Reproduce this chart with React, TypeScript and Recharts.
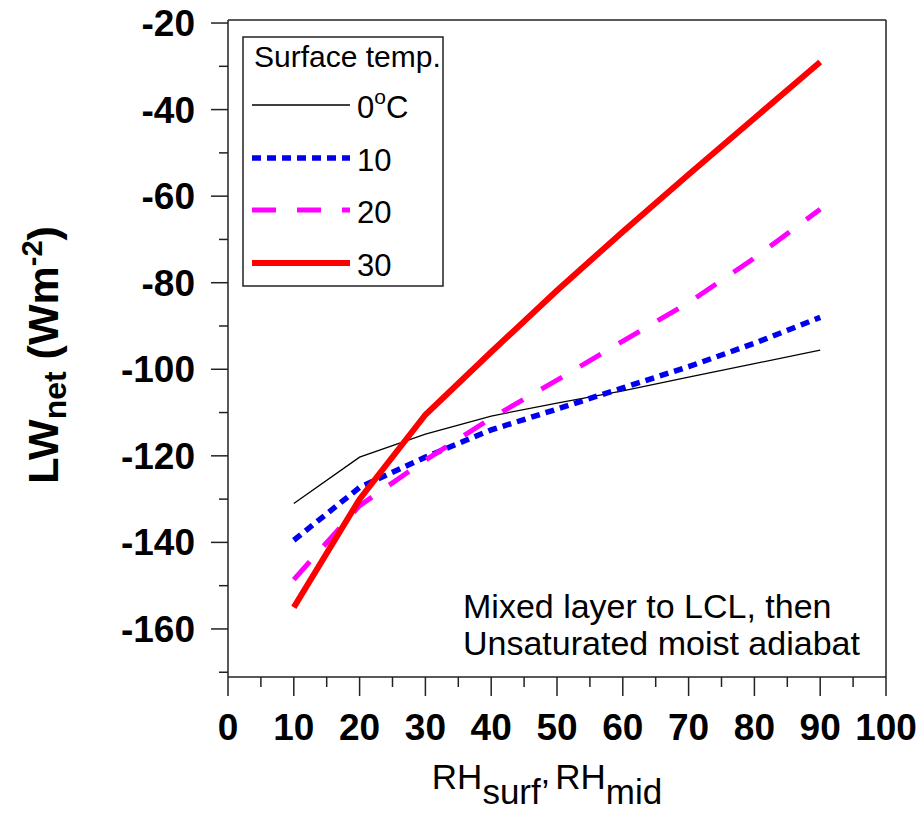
import React from "react";
import { LineChart, Line, XAxis, YAxis, ReferenceLine, Customized } from "recharts";

// relative humidity (x) and net longwave flux for each surface temperature
const rhValues = [10, 20, 30, 40, 50, 60, 70, 80, 90];
const lw0 = [-131, -120.3, -115, -110.8, -107.8, -105, -101.8, -98.7, -95.6];
const lw10 = [-139.5, -127.3, -120.3, -114, -109.2, -104.3, -99.4, -94, -88];
const lw20 = [-148.6, -131.5, -121, -111.3, -102.5, -93.5, -84.6, -74.3, -63];
const lw30 = [-155, -130, -110.5, -96, -81.8, -68.2, -55, -42, -29];

const xTicks = [0, 5, 10, 15, 20, 25, 30, 35, 40, 45, 50, 55, 60, 65, 70, 75, 80, 85, 90, 95, 100];
const xLabels = [0, 10, 20, 30, 40, 50, 60, 70, 80, 90, 100];
const yTicks = [-170, -160, -150, -140, -130, -120, -110, -100, -90, -80, -70, -60, -50, -40, -30, -20];
const yLabels = [-160, -140, -120, -100, -80, -60, -40, -20];

const series = [
  { key: "t0", label: "0", values: lw0, color: "#000000", width: 1.3, dash: undefined as string | undefined },
  { key: "t10", label: "10", values: lw10, color: "#0000ee", width: 5.5, dash: "9 6" },
  { key: "t20", label: "20", values: lw20, color: "#ff00ff", width: 5, dash: "24 21" },
  { key: "t30", label: "30", values: lw30, color: "#ff0000", width: 6, dash: undefined as string | undefined },
];

const data = rhValues.map((rh, i) => {
  const row: Record<string, number> = { rh };
  series.forEach((s) => (row[s.key] = s.values[i]));
  return row;
});

const FONT = "'Liberation Sans', Arial, sans-serif";
const AXIS = "#222";

function YTick(props: any) {
  const { x, y, payload } = props;
  const major = yLabels.includes(payload.value);
  return (
    <g>
      <line x1={x - (major ? 17 : 9)} x2={x} y1={y} y2={y} stroke={AXIS} strokeWidth={1.5} />
      {major && (
        <text x={x - 33} y={y + 13} textAnchor="end" fontSize={37} fontWeight="bold" fontFamily={FONT} fill="#000">
          {payload.value}
        </text>
      )}
    </g>
  );
}

function XTick(props: any) {
  const { x, y, payload } = props;
  const major = xLabels.includes(payload.value);
  return (
    <g>
      <line x1={x} x2={x} y1={y} y2={y + (major ? 19 : 10)} stroke={AXIS} strokeWidth={1.5} />
      {major && (
        <text x={x} y={y + 63} textAnchor="middle" fontSize={37} fontWeight="bold" fontFamily={FONT} fill="#000">
          {payload.value}
        </text>
      )}
    </g>
  );
}

function Overlay() {
  const rows = [105, 158, 210, 263];
  return (
    <g fontFamily={FONT}>
      {/* legend */}
      <rect x={243} y={37} width={200} height={249} fill="#fff" stroke={AXIS} strokeWidth={1.5} />
      <text x={254} y={67} fontSize={30} fill="#000">Surface temp.</text>
      {series.map((s, i) => (
        <g key={s.key}>
          <line x1={252} x2={350} y1={rows[i]} y2={rows[i]} stroke={s.color} strokeWidth={s.width} strokeDasharray={s.dash} />
          <text x={357} y={rows[i] + 13} fontSize={31} fill="#000">
            {s.label}
            {i === 0 && (
              <>
                <tspan fontSize={21} dy={-14}>o</tspan>
                <tspan dy={14}>C</tspan>
              </>
            )}
          </text>
        </g>
      ))}

      {/* annotation */}
      <text x={463} y={618} fontSize={34} fill="#000">Mixed layer to LCL, then</text>
      <text x={463} y={655} fontSize={34} fill="#000">Unsaturated moist adiabat</text>

      {/* x title */}
      <text x={547} y={789} textAnchor="middle" fontSize={35} fill="#000">
        RH<tspan dy={15}>surf’</tspan>
        <tspan dy={-15} dx={6}>RH</tspan>
        <tspan dy={15}>mid</tspan>
      </text>

      {/* y title */}
      <text x={0} y={0} transform="translate(58,355) rotate(-90)" textAnchor="middle" fontSize={43} fontWeight="bold" fill="#000">
        LW<tspan fontSize={32} dy={8}>net</tspan>
        <tspan dy={-8}> (Wm</tspan>
        <tspan fontSize={29} dy={-16}>-2</tspan>
        <tspan dy={16}>)</tspan>
      </text>
    </g>
  );
}

export default function App() {
  return (
    <div style={{ position: "absolute", left: 0, top: 0, background: "#fff" }}>
      <LineChart width={918} height={814} data={data} margin={{ top: 20, right: 32, bottom: 0, left: 0 }}>
        <XAxis
          dataKey="rh"
          type="number"
          domain={[0, 100]}
          ticks={xTicks}
          interval={0}
          height={137}
          tickSize={0}
          tickMargin={0}
          tickLine={false}
          axisLine={{ stroke: AXIS, strokeWidth: 1.5 }}
          tick={<XTick />}
        />
        <YAxis
          type="number"
          domain={[-171.1, -19.3]}
          allowDataOverflow
          ticks={yTicks}
          interval={0}
          width={228}
          tickSize={0}
          tickMargin={0}
          tickLine={false}
          axisLine={{ stroke: AXIS, strokeWidth: 1.5 }}
          tick={<YTick />}
        />
        <ReferenceLine y={-19.3} stroke={AXIS} strokeWidth={1.5} ifOverflow="visible" />
        <ReferenceLine x={100} stroke={AXIS} strokeWidth={1.5} ifOverflow="visible" />
        {series.map((s) => (
          <Line
            key={s.key}
            type="linear"
            dataKey={s.key}
            stroke={s.color}
            strokeWidth={s.width}
            strokeDasharray={s.dash}
            dot={false}
            activeDot={false}
            isAnimationActive={false}
          />
        ))}
        <Customized component={Overlay} />
      </LineChart>
    </div>
  );
}
